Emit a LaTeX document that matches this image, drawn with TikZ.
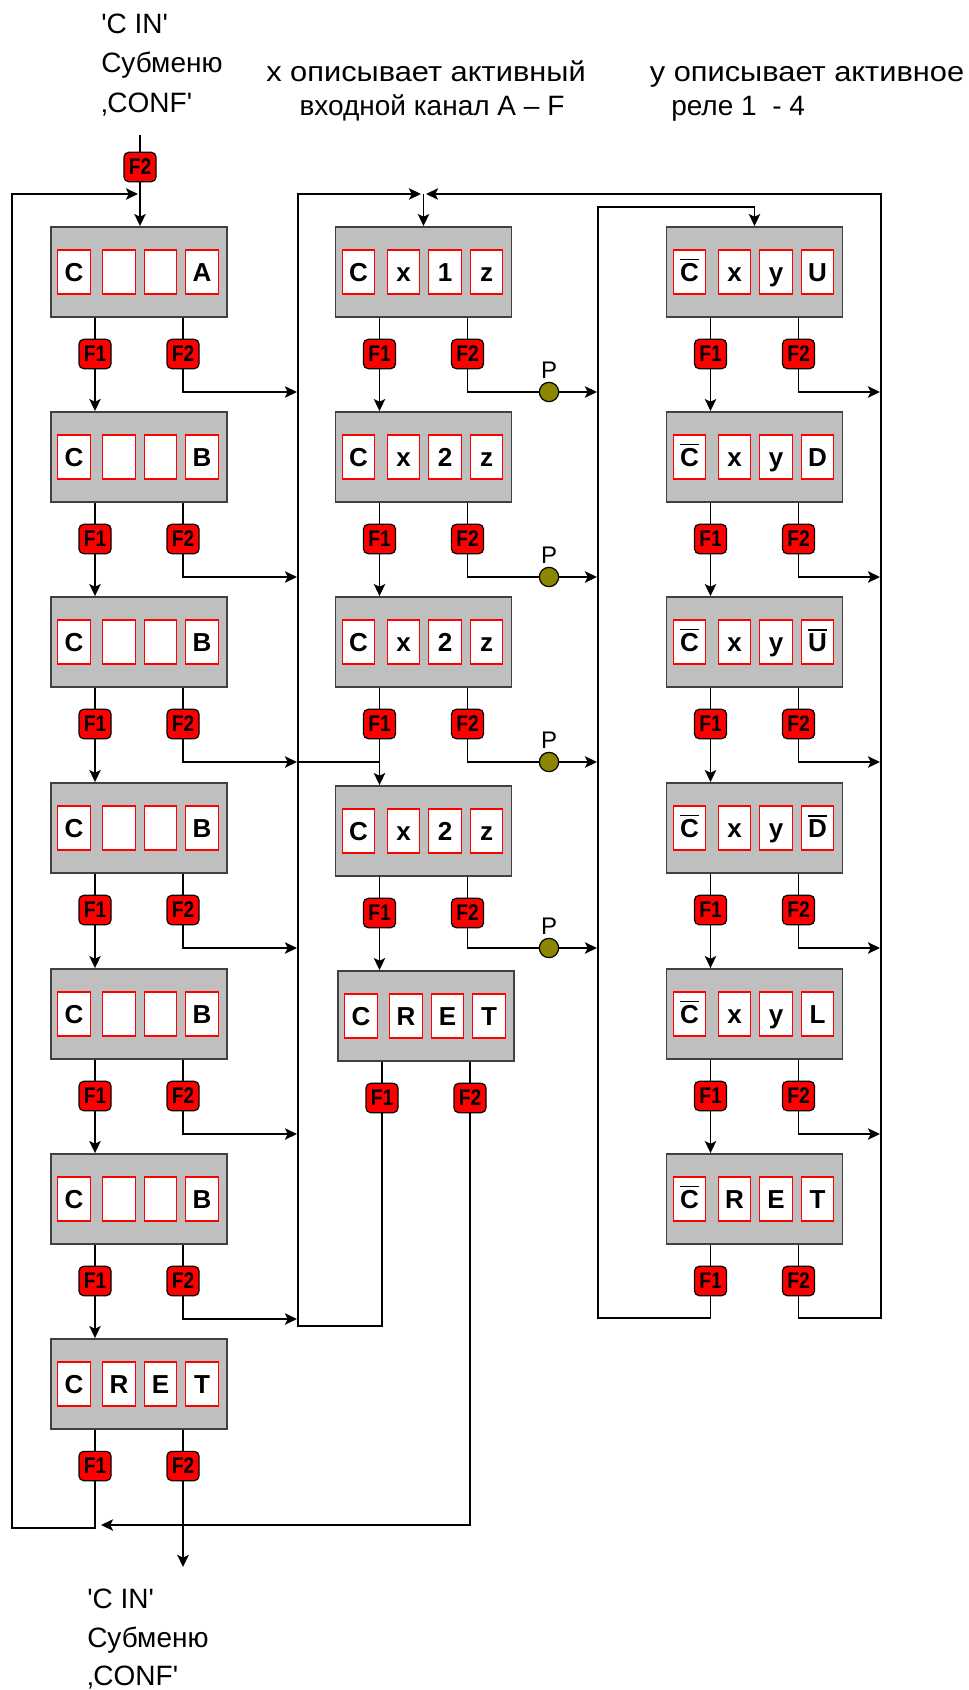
\documentclass[tikz,border=0pt]{standalone}
\usepackage{fontspec}
\setmainfont{Liberation Sans}
\usepackage{graphicx}
\usetikzlibrary{arrows.meta,calc}

\newcommand\ob[1]{\leavevmode\setbox0\hbox{#1}\rlap{\smash{\raise\dimexpr\ht0+2.2pt\relax\hbox{\vrule width\wd0 height 1.3pt depth 0pt}}}\box0}

\tikzset{
 mainbox/.style={draw=black!75, fill=black!25, line width=1.4pt, minimum width=132pt, minimum height=67.5pt, inner sep=0pt},
 cell/.style={draw=red, fill=white, line width=0.9pt, minimum width=24.5pt, minimum height=33pt, inner sep=0pt, font=\fontsize{19.5}{20}\selectfont\bfseries, text height=14pt, text depth=0pt},
 fbtn/.style={draw=black, fill=red, line width=0.9pt, rounded corners=3.5pt, minimum width=24pt, minimum height=22pt, inner sep=0pt, font=\fontsize{17}{18}\selectfont\bfseries},
 ln/.style={line width=1.4pt, black},
 ar/.style={ln, -{Stealth[length=9pt,width=8.5pt,inset=2pt]}},
 pdot/.style={circle, draw=black, fill=olive, line width=0.9pt, minimum size=14.5pt, inner sep=0pt},
 plab/.style={font=\fontsize{18}{20}\selectfont, inner sep=0pt, label distance=2pt},
 lab/.style={font=\fontsize{21}{29}\selectfont, inner sep=0pt},
}

\newcommand\mkbox[7]{%
 \node[mainbox] (#1) at (#2,#3+45) {};
 \node[cell] (#1a) at (#2-65,#3+45) {#4};
 \node[cell] (#1b) at (#2-20,#3+45) {#5};
 \node[cell] (#1c) at (#2+21.5,#3+45) {#6};
 \node[cell] (#1d) at (#2+63,#3+45) {#7};
 \node[fbtn] (#1f) at (#2-44,#3+127) {\scalebox{0.85}[1]{F1}};
 \node[fbtn] (#1g) at (#2+44,#3+127) {\scalebox{0.85}[1]{F2}};
 \draw[ln] (#1.south -| #1f.north) -- (#1f.north);
 \draw[ln] (#1.south -| #1g.north) -- (#1g.north);
}
\newcommand\down[2]{\draw[ar] (#1f.south) -- (#1f.south |- #2.north);}
\newcommand\rarr[3]{\coordinate (#1e) at (#2,#3); \draw[ar] (#1g.south) |- (#1e);}
\newcommand\parr[2]{%
 \node[pdot,label={[plab]above:P}] (#1p) at (549,#2) {};
 \draw[ln] (#1g.south) |- (#1p.west);
 \coordinate (#1e) at (597,#2);
 \draw[ar] (#1p.east) -- (#1e);}

\begin{document}
\begin{tikzpicture}[x=0.75pt,y=-0.75pt]
\useasboundingbox (0,0) rectangle (968,1690);

% texts
\node[lab,anchor=base west] (t1) at (101,34) {\textquotesingle C IN\textquotesingle};
\node[lab,anchor=base west] (t2) at (101,73) {Субменю};
\node[lab,anchor=base west] (t3) at (101,113) {‚CONF\textquotesingle};
\node[lab,anchor=base] (t4) at (426,82) {\scalebox{1.1}[1]{x описывает активный}};
\node[lab,anchor=base] (t5) at (432,116) {входной канал A – F};
\node[lab,anchor=base] (t6) at (807,82) {\scalebox{1.1}[1]{y описывает активное}};
\node[lab,anchor=base west] (t7) at (671,116) {реле 1\ \ - 4};
\node[lab,anchor=base west] (b1) at (87,1608) {\textquotesingle C IN\textquotesingle};
\node[lab,anchor=base west] (b2) at (87,1647) {Субменю};
\node[lab,anchor=base west] (b3) at (87,1685) {‚CONF\textquotesingle};

% left column
\mkbox{L1}{139}{227}{C}{}{}{A}
\mkbox{L2}{139}{412}{C}{}{}{B}
\mkbox{L3}{139}{597}{C}{}{}{B}
\mkbox{L4}{139}{783}{C}{}{}{B}
\mkbox{L5}{139}{969}{C}{}{}{B}
\mkbox{L6}{139}{1154}{C}{}{}{B}
\mkbox{L7}{139}{1339}{C}{R}{E}{T}
% middle column
\mkbox{M1}{423.5}{227}{C}{x}{1}{z}
\mkbox{M2}{423.5}{412}{C}{x}{2}{z}
\mkbox{M3}{423.5}{597}{C}{x}{2}{z}
\mkbox{M4}{423.5}{786}{C}{x}{2}{z}
\mkbox{M5}{426}{971}{C}{R}{E}{T}
% right column
\mkbox{R1}{754.5}{227}{\ob{C}}{x}{y}{U}
\mkbox{R2}{754.5}{412}{\ob{C}}{x}{y}{D}
\mkbox{R3}{754.5}{597}{\ob{C}}{x}{y}{\ob{U}}
\mkbox{R4}{754.5}{783}{\ob{C}}{x}{y}{\ob{D}}
\mkbox{R5}{754.5}{969}{\ob{C}}{x}{y}{L}
\mkbox{R6}{754.5}{1154}{\ob{C}}{R}{E}{T}

% top input
\coordinate (inTop) at (140,135);
\node[fbtn] (T0) at (140,167) {\scalebox{0.85}[1]{F2}};
\draw[ln] (inTop) -- (T0.north);
\draw[ar] (T0.south) -- (T0.south |- L1.north);

% left connectors
\down{L1}{L2} \down{L2}{L3} \down{L3}{L4} \down{L4}{L5} \down{L5}{L6} \down{L6}{L7}
\rarr{L1}{297}{392} \rarr{L2}{297}{577} \rarr{L3}{297}{762}
\rarr{L4}{297}{948} \rarr{L5}{297}{1134} \rarr{L6}{297}{1319}

% middle connectors
\down{M1}{M2} \down{M2}{M3} \down{M3}{M4} \down{M4}{M5}
\parr{M1}{392} \parr{M2}{577} \parr{M3}{762} \parr{M4}{948}
\coordinate (mJ) at (298,762);
\draw[ln] (mJ) -- (mJ -| M3f.south);

% right connectors
\down{R1}{R2} \down{R2}{R3} \down{R3}{R4} \down{R4}{R5} \down{R5}{R6}
\rarr{R1}{880}{392} \rarr{R2}{880}{577} \rarr{R3}{880}{762}
\rarr{R4}{880}{948} \rarr{R5}{880}{1134}

% loops
\coordinate (mlBot) at (298,1326);
\coordinate (mlTop) at (298,194);
\coordinate (mjL) at (421,194);
\draw[ar] (M5f.south) |- (mlBot) -- (mlTop) -- (mjL);
\coordinate (botTip) at (101,1525);
\draw[ar] (M5g.south) |- (botTip);

\coordinate (rBot) at (881,1318);
\coordinate (rTop) at (881,194);
\coordinate (mjR) at (426,194);
\draw[ar] (R6g.south) |- (rBot) -- (rTop) -- (mjR);
\coordinate (mjD) at (423.5,194);
\draw[ar] (mjD) -- (M1.north);

\coordinate (riBot) at (598,1318);
\coordinate (riTop) at (598,207);
\draw[ar] (R6f.south) |- (riBot) -- (riTop) -| (R1.north);

\coordinate (llBot) at (12,1528);
\coordinate (llTop) at (12,194);
\coordinate (llTip) at (138,194);
\draw[ar] (L7f.south) |- (llBot) -- (llTop) -- (llTip);

\coordinate (exTip) at (183,1567);
\draw[ar] (L7g.south) -- (exTip);
\end{tikzpicture}
\end{document}
